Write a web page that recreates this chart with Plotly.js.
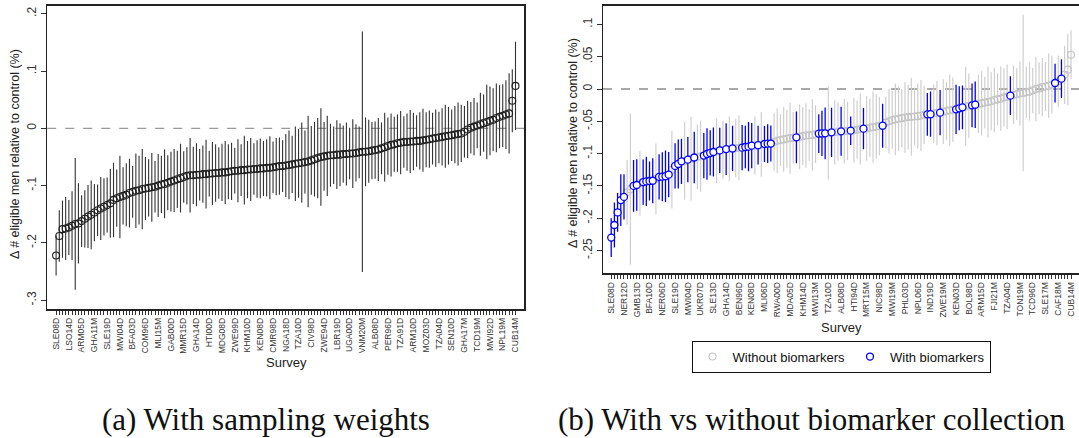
<!DOCTYPE html>
<html>
<head>
<meta charset="utf-8">
<script src="https://cdn.plot.ly/plotly-3.0.1.min.js"></script>
<style>
html,body{margin:0;padding:0;background:#fff;}
#chart{width:1079px;height:438px;}
</style>
</head>
<body>
<div id="chart"></div>
<script>
// ---------- Panel (a): with sampling weights ----------
const labelsA = ["SLE08D","LSO14D","ARM05D","GHA11M","SLE19D","MWI04D","BFA03D","COM96D","MLI15M","GAB00D",
  "MMR15D","GHA14D","HTI00D","MDG08D","ZWE99D","KHM10D","KEN08D","CMR98D","NGA18D","TZA10D",
  "CIV98D","ZWE94D","LBR19D","UGA00D","VNM20M","ALB08D","PER96D","TZA91D","ARM10D","MOZ03D",
  "TZA04D","SEN10D","GHA17M","TCD19M","MWI92D","NPL19M","CUB14M"];

const estA = [-0.222,-0.188,-0.176,-0.175,-0.173,-0.170,-0.167,-0.166,-0.162,-0.158,
 -0.154,-0.151,-0.147,-0.143,-0.140,-0.137,-0.134,-0.131,-0.125,-0.122,
 -0.120,-0.118,-0.116,-0.113,-0.111,-0.109,-0.108,-0.106,-0.105,-0.104,
 -0.103,-0.102,-0.100,-0.098,-0.097,-0.095,-0.093,-0.091,-0.089,-0.087,
 -0.085,-0.083,-0.082,-0.082,-0.081,-0.081,-0.080,-0.080,-0.079,-0.079,
 -0.078,-0.078,-0.077,-0.077,-0.076,-0.075,-0.074,-0.074,-0.073,-0.073,
 -0.072,-0.072,-0.071,-0.071,-0.070,-0.070,-0.069,-0.069,-0.068,-0.067,
 -0.066,-0.066,-0.065,-0.064,-0.063,-0.062,-0.061,-0.060,-0.059,-0.058,
 -0.056,-0.054,-0.052,-0.050,-0.049,-0.048,-0.047,-0.047,-0.046,-0.046,
 -0.045,-0.045,-0.044,-0.044,-0.043,-0.042,-0.041,-0.041,-0.040,-0.039,
 -0.038,-0.037,-0.035,-0.033,-0.031,-0.029,-0.028,-0.026,-0.025,-0.024,
 -0.024,-0.023,-0.023,-0.022,-0.022,-0.021,-0.020,-0.019,-0.018,-0.017,
 -0.016,-0.015,-0.014,-0.013,-0.012,-0.011,-0.010,-0.009,-0.006,-0.002,
 0.001,0.003,0.005,0.007,0.009,0.011,0.013,0.015,0.018,0.020,
 0.022,0.024,0.026,0.048,0.074];

const ciA = [0.035,0.045,0.050,0.055,0.048,0.060,0.115,0.070,0.045,0.050,
 0.055,0.060,0.050,0.045,0.055,0.050,0.048,0.060,0.065,0.050,
 0.072,0.050,0.055,0.060,0.045,0.065,0.060,0.070,0.055,0.050,
 0.060,0.045,0.055,0.050,0.060,0.048,0.052,0.055,0.050,0.060,
 0.045,0.050,0.065,0.050,0.055,0.045,0.050,0.060,0.040,0.055,
 0.050,0.045,0.050,0.055,0.048,0.050,0.040,0.055,0.045,0.060,
 0.050,0.055,0.045,0.050,0.052,0.048,0.050,0.055,0.045,0.050,
 0.050,0.045,0.055,0.060,0.050,0.065,0.060,0.070,0.055,0.080,
 0.060,0.065,0.070,0.085,0.060,0.070,0.055,0.050,0.060,0.055,
 0.050,0.055,0.045,0.060,0.050,0.045,0.210,0.060,0.055,0.050,
 0.050,0.055,0.045,0.060,0.050,0.055,0.048,0.050,0.055,0.045,
 0.050,0.055,0.050,0.045,0.050,0.055,0.048,0.050,0.045,0.050,
 0.045,0.050,0.055,0.050,0.045,0.050,0.055,0.050,0.045,0.050,
 0.045,0.050,0.040,0.055,0.050,0.065,0.060,0.055,0.060,0.055,
 0.055,0.060,0.070,0.055,0.077];

// ---------- Panel (b): with vs without biomarker collection ----------
const labelsB = ["SLE08D","NER12D","GMB13D","BFA10D","NER06D","SLE19D","MWI04D","UKR07D","SLE13D","GHA14D",
  "BEN96D","KEN08D","MLI06D","RWA00D","MDA05D","KHM14D","MWI13M","TZA10D","ALB08D","HTI94D",
  "MRT15M","NIC98D","MWI19M","PHL03D","NPL06D","IND19D","ZWE19M","KEN03D","BOL98D","ARM15D",
  "FJI21M","TZA04D","TON19M","TCD96D","SLE17M","CAF18M","CUB14M"];

const estB = [-0.230,-0.2105,-0.191,-0.172,-0.167,-0.160,-0.155,-0.150,-0.1486,-0.146,
 -0.144,-0.143,-0.1424,-0.142,-0.139,-0.136,-0.1357,-0.135,-0.1326,-0.125,
 -0.119,-0.116,-0.112,-0.111,-0.1094,-0.108,-0.106,-0.105,-0.104,-0.103,
 -0.1006,-0.099,-0.0975,-0.096,-0.095,-0.094,-0.093,-0.0925,-0.092,-0.0915,
 -0.091,-0.0908,-0.0898,-0.0892,-0.0877,-0.0875,-0.087,-0.086,-0.0851,-0.0846,
 -0.0844,-0.082,-0.080,-0.079,-0.078,-0.077,-0.076,-0.0755,-0.0748,-0.0738,
 -0.073,-0.072,-0.0715,-0.071,-0.070,-0.069,-0.0688,-0.0686,-0.068,-0.0671,
 -0.067,-0.066,-0.0655,-0.065,-0.0648,-0.0645,-0.064,-0.063,-0.062,-0.0614,
 -0.061,-0.060,-0.059,-0.058,-0.0575,-0.0568,-0.052,-0.050,-0.048,-0.047,
 -0.046,-0.045,-0.044,-0.0435,-0.043,-0.0425,-0.042,-0.041,-0.040,-0.0392,
 -0.039,-0.038,-0.037,-0.0366,-0.035,-0.034,-0.033,-0.032,-0.0315,-0.0299,
 -0.0284,-0.027,-0.026,-0.0253,-0.0243,-0.023,-0.022,-0.021,-0.020,-0.019,
 -0.017,-0.016,-0.015,-0.013,-0.012,-0.0103,-0.009,-0.008,-0.007,-0.006,
 -0.005,-0.004,-0.002,0.000,0.001,0.003,0.004,0.005,0.007,0.0093,
 0.012,0.016,0.022,0.030,0.053];

const ciB = [0.030,0.035,0.030,0.040,0.035,0.050,0.117,0.040,0.040,0.050,
 0.035,0.038,0.030,0.035,0.055,0.035,0.038,0.040,0.035,0.060,
 0.035,0.038,0.035,0.060,0.035,0.065,0.040,0.050,0.055,0.035,
 0.040,0.035,0.038,0.050,0.035,0.045,0.040,0.050,0.035,0.045,
 0.050,0.035,0.033,0.038,0.035,0.045,0.030,0.050,0.028,0.030,
 0.028,0.045,0.050,0.040,0.050,0.045,0.055,0.040,0.040,0.050,
 0.045,0.050,0.040,0.055,0.045,0.030,0.035,0.040,0.072,0.038,
 0.050,0.045,0.038,0.050,0.045,0.022,0.050,0.045,0.055,0.032,
 0.050,0.045,0.055,0.050,0.045,0.034,0.040,0.050,0.045,0.055,
 0.050,0.045,0.055,0.050,0.060,0.045,0.050,0.055,0.045,0.033,
 0.035,0.045,0.050,0.035,0.050,0.045,0.055,0.050,0.038,0.034,
 0.034,0.061,0.050,0.034,0.036,0.045,0.050,0.040,0.055,0.045,
 0.050,0.040,0.050,0.045,0.050,0.030,0.045,0.040,0.050,0.121,
 0.040,0.045,0.035,0.050,0.040,0.045,0.038,0.050,0.045,0.030,
 0.040,0.030,0.045,0.055,0.038];

// 1 = survey with biomarker collection, 0 = without
const bioB = [1,1,1,1,1,0,0,1,1,0,
 1,1,1,1,0,1,1,1,1,0,
 1,1,1,0,1,0,1,0,0,1,
 1,1,1,0,1,0,1,0,1,0,
 0,1,1,1,1,0,1,0,1,1,
 1,0,0,0,0,0,0,0,1,0,
 0,0,0,0,0,1,1,1,0,1,
 0,0,1,0,0,1,0,0,0,1,
 0,0,0,0,0,1,0,0,0,0,
 0,0,0,0,0,0,0,0,0,1,
 1,0,0,1,0,0,0,0,1,1,
 1,0,0,1,1,0,0,0,0,0,
 0,0,0,0,0,1,0,0,0,0,
 0,0,0,0,0,0,0,0,0,1,
 0,1,0,0,0];

const yTickValsA = [-0.3,-0.2,-0.1,0,0.1,0.2];
const yTickTextA = ["-.3","-.2","-.1","0",".1",".2"];
const yTickValsB = [-0.25,-0.2,-0.15,-0.1,-0.05,0,0.05,0.1];
const yTickTextB = ["-.25","-.2","-.15","-.1","-.05","0",".05",".1"];

const yTitle = "Δ # eligible men relative to control (%)";

// ---------- build ----------
const idxA = estA.map((_, i) => i);
const idxB = estB.map((_, i) => i);
const tickTextA = idxA.map(i => (i % 4 === 0 && labelsA[i / 4]) ? labelsA[i / 4] : "");
const tickTextB = idxB.map(i => (i % 4 === 0 && labelsB[i / 4]) ? labelsB[i / 4] : "");

function pick(arr, flag) { return arr.filter((_, i) => bioB[i] === flag); }

const FONT = "Liberation Sans, Arial, sans-serif";
const SERIF = "Liberation Serif, Times New Roman, serif";

const traceA = {
  x: idxA, y: estA, type: "scatter", mode: "markers", xaxis: "x", yaxis: "y",
  showlegend: false, hoverinfo: "skip",
  marker: {symbol: "circle-open", size: 7, color: "#1e1e1e", line: {width: 1.1, color: "#1e1e1e"}},
  error_y: {type: "data", array: ciA, symmetric: true, visible: true, thickness: 1.1, width: 0, color: "#333"}
};
const traceGrey = {
  x: pick(idxB, 0), y: pick(estB, 0), type: "scatter", mode: "markers", xaxis: "x2", yaxis: "y2",
  name: "Without biomarkers", hoverinfo: "skip",
  marker: {symbol: "circle", size: 7, color: "rgba(255,255,255,0)", line: {width: 1.1, color: "#c4c4c4"}},
  error_y: {type: "data", array: pick(ciB, 0), symmetric: true, visible: true, thickness: 1.2, width: 0, color: "#cfcfcf"}
};
const traceBlue = {
  x: pick(idxB, 1), y: pick(estB, 1), type: "scatter", mode: "markers", xaxis: "x2", yaxis: "y2",
  name: "With biomarkers", hoverinfo: "skip",
  marker: {symbol: "circle", size: 7, color: "#ffffff", line: {width: 1.3, color: "#0000ff"}},
  error_y: {type: "data", array: pick(ciB, 1), symmetric: true, visible: true, thickness: 1.3, width: 0, color: "#0000ff"}
};

const W = 1079, H = 438;
const px = v => v / W;
const py = v => 1 - v / H;

const xCommon = {
  type: "linear", showgrid: false, zeroline: false,
  ticks: "outside", ticklen: 4, tickwidth: 1, tickcolor: "#333",
  tickangle: -90, tickfont: {family: FONT, size: 8.5, color: "#333"},
  showline: true, linecolor: "#222", linewidth: 1.5, mirror: true, automargin: false, fixedrange: true
};
const yCommon = {
  showgrid: false, zeroline: false,
  ticks: "outside", ticklen: 5, tickwidth: 1, tickcolor: "#333",
  tickangle: -90, tickfont: {family: FONT, size: 12, color: "#333"},
  showline: true, linecolor: "#222", linewidth: 1.5, automargin: false, fixedrange: true
};

const layout = {
  width: W, height: H, margin: {l: 0, r: 0, t: 0, b: 0},
  paper_bgcolor: "#fff", plot_bgcolor: "#fff",
  font: {family: FONT, size: 12, color: "#222"},
  xaxis: Object.assign({}, xCommon, {domain: [px(47.2), px(524.1)], range: [-2.79, 146.7],
    tickvals: idxA, ticktext: tickTextA, anchor: "y"}),
  yaxis: Object.assign({}, yCommon, {domain: [py(309), py(5.7)], range: [-0.3154, 0.214],
    tickvals: yTickValsA, ticktext: yTickTextA, mirror: true, anchor: "x"}),
  xaxis2: Object.assign({}, xCommon, {domain: [px(603), 1], range: [-2.57, 146.5],
    tickvals: idxB, ticktext: tickTextB, anchor: "y2"}),
  yaxis2: Object.assign({}, yCommon, {domain: [py(273.3), py(5.7)], range: [-0.2853, 0.129],
    tickvals: yTickValsB, ticktext: yTickTextB, mirror: false, anchor: "x2"}),
  showlegend: true,
  legend: {orientation: "h", x: px(841), y: py(356.6), xanchor: "center", yanchor: "middle",
    bordercolor: "#111", borderwidth: 1, bgcolor: "#fff",
    font: {family: FONT, size: 13, color: "#111"}, itemclick: false, itemdoubleclick: false},
  shapes: [
    {type: "line", xref: "x domain", yref: "y", x0: 0, x1: 1, y0: 0, y1: 0,
     line: {color: "#9a9a9a", width: 1.3, dash: "dash"}, layer: "below"},
    {type: "line", xref: "x2 domain", yref: "y2", x0: 0, x1: 1, y0: 0, y1: 0,
     line: {color: "#555", width: 1.1, dash: "dash"}, layer: "below"}
  ],
  annotations: [
    {text: yTitle, xref: "paper", yref: "paper", x: px(15), y: py(154), textangle: -90,
     showarrow: false, font: {family: FONT, size: 12.5, color: "#222"}, xanchor: "center", yanchor: "middle"},
    {text: yTitle, xref: "paper", yref: "paper", x: px(573), y: py(143), textangle: -90,
     showarrow: false, font: {family: FONT, size: 12.5, color: "#222"}, xanchor: "center", yanchor: "middle"},
    {text: "Survey", xref: "paper", yref: "paper", x: px(286), y: py(362), showarrow: false,
     font: {family: FONT, size: 13, color: "#222"}, xanchor: "center", yanchor: "middle"},
    {text: "Survey", xref: "paper", yref: "paper", x: px(841), y: py(327.5), showarrow: false,
     font: {family: FONT, size: 13, color: "#222"}, xanchor: "center", yanchor: "middle"},
    {text: "(a) With sampling weights", xref: "paper", yref: "paper", x: px(266), y: py(419), showarrow: false,
     font: {family: SERIF, size: 31, color: "#111"}, xanchor: "center", yanchor: "middle"},
    {text: "(b) With vs without biomarker collection", xref: "paper", yref: "paper", x: px(556), y: py(419), showarrow: false,
     font: {family: SERIF, size: 31, color: "#111"}, xanchor: "left", yanchor: "middle"}
  ]
};

Plotly.newPlot("chart", [traceA, traceGrey, traceBlue], layout, {staticPlot: true, displayModeBar: false});
</script>
</body>
</html>
